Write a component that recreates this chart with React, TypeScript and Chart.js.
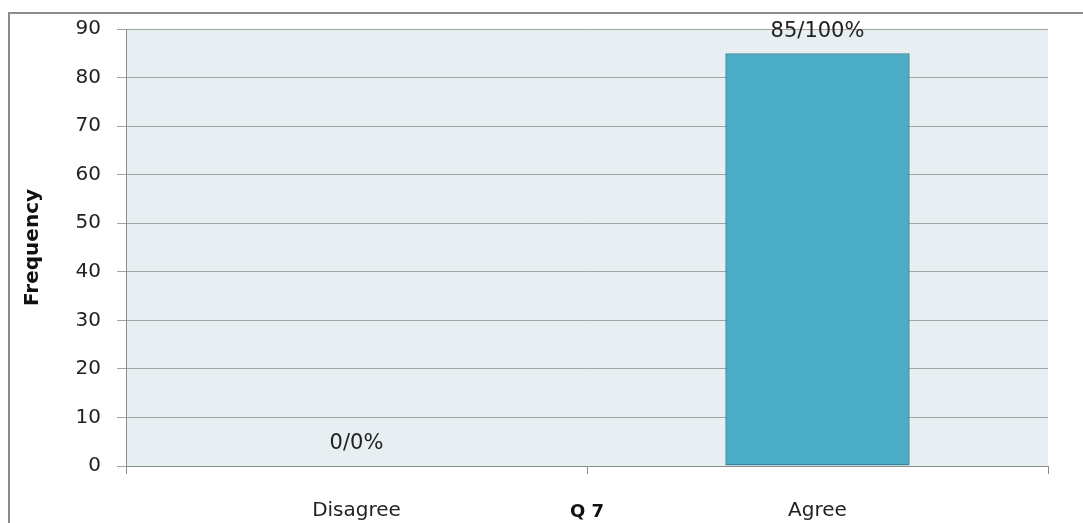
import React, { useEffect, useRef } from "react";
import { Chart, registerables } from "chart.js";

Chart.register(...registerables);

const categories = ["Disagree", "Agree"];
const frequencies = [0, 85];
const valueLabels = ["0/0%", "85/100%"];
const yTicks = [0, 10, 20, 30, 40, 50, 60, 70, 80, 90];
const xTitle = "Q 7";
const yTitle = "Frequency";

const FONT = "'DejaVu Sans', sans-serif";

export default function App() {
  const ref = useRef<HTMLCanvasElement | null>(null);

  useEffect(() => {
    if (!ref.current) return;
    const bgPlugin = {
      id: "plotBg",
      beforeDraw(chart: any) {
        const { ctx, chartArea } = chart;
        ctx.save();
        ctx.fillStyle = "#e8eff3";
        ctx.fillRect(chartArea.left, chartArea.top, chartArea.right - chartArea.left, chartArea.bottom - chartArea.top);
        ctx.restore();
      },
    };
    const labelPlugin = {
      id: "valueLabels",
      afterDatasetsDraw(chart: any) {
        const { ctx } = chart;
        const meta = chart.getDatasetMeta(0);
        ctx.save();
        ctx.font = `21px ${FONT}`;
        ctx.fillStyle = "#222";
        ctx.textAlign = "center";
        ctx.textBaseline = "middle";
        meta.data.forEach((el: any, i: number) => {
          ctx.fillText(valueLabels[i], el.x, el.y - 22);
        });
        ctx.restore();
      },
    };
    const chart = new Chart(ref.current, {
      type: "bar",
      data: {
        labels: categories,
        datasets: [
          {
            data: frequencies,
            backgroundColor: "#4bacc6",
            borderColor: "#35859b",
            borderWidth: 1.5,
            borderSkipped: false,
            categoryPercentage: 1,
            barPercentage: 0.4,
          },
        ],
      },
      options: {
        responsive: false,
        animation: false,
        layout: { padding: { top: 29, right: 35, left: 0, bottom: 0 } },
        plugins: { legend: { display: false }, tooltip: { enabled: false } },
        scales: {
          x: {
            grid: { drawOnChartArea: false, drawTicks: true, tickLength: 8, color: "#8c8c8c", offset: true },
            border: { color: "#8c8c8c", width: 1 },
            ticks: { font: { family: FONT, size: 20 }, color: "#222", padding: 25 },
            title: { display: true, text: xTitle, font: { family: FONT, size: 18, weight: "bold" }, color: "#111", padding: { top: 0, bottom: 0 } },
            afterFit(scale: any) {
              scale.height = 57;
            },
          },
          y: {
            min: 0,
            max: 90,
            afterBuildTicks(scale: any) {
              scale.ticks = yTicks.map((v) => ({ value: v }));
            },
            grid: { color: "#a3a3a3", tickLength: 9, lineWidth: 1 },
            border: { color: "#8c8c8c", width: 1 },
            ticks: { font: { family: FONT, size: 20 }, color: "#222", padding: 16 },
            title: { display: true, text: yTitle, font: { family: FONT, size: 20, weight: "bold" }, color: "#111", padding: { top: 21, bottom: 0 } },
            afterFit(scale: any) {
              scale.width = 126;
            },
          },
        },
      },
      plugins: [bgPlugin, labelPlugin],
    });
    return () => chart.destroy();
  }, []);

  return (
    <div style={{ position: "fixed", left: 0, top: 0, width: 1083, height: 523, overflow: "hidden", background: "#fff" }}>
      <div style={{ position: "absolute", left: 8, top: 12, width: 1200, height: 700, borderLeft: "2px solid #8c8c8c", borderTop: "2px solid #8c8c8c" }} />
      <canvas ref={ref} width={1083} height={523} style={{ position: "absolute", left: 0, top: 0 }} />
    </div>
  );
}
